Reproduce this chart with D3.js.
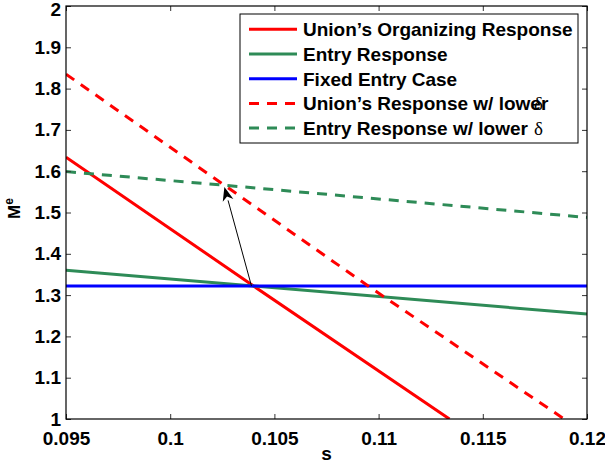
<!DOCTYPE html>
<html>
<head>
<meta charset="utf-8">
<script src="https://cdn.jsdelivr.net/npm/d3@7"></script>
<style>
  body { margin: 0; background: #fff; }
  text { font-family: "Liberation Sans", Arial, sans-serif; font-weight: bold; }
</style>
</head>
<body>
<div class="viz"></div>
<script>
const w = 605;
const h = 466;

// series as [s, M^e] pairs
const unionResponse = [[0.095, 1.634], [0.104, 1.322], [0.1134, 1.0]];
const entryResponse = [[0.095, 1.360], [0.104, 1.322], [0.12, 1.254]];
const fixedEntry = [[0.095, 1.322], [0.12, 1.322]];
const unionLowDelta = [[0.095, 1.835], [0.1026, 1.566], [0.1095, 1.322], [0.1189, 1.0]];
const entryLowDelta = [[0.095, 1.599], [0.1026, 1.566], [0.12, 1.488]];
const arrowPoints = [[0.1039, 1.322], [0.1026, 1.562]];

const legendLabels = ["Union\u2019s Organizing Response", "Entry Response", "Fixed Entry Case",
    "Union\u2019s Response w/ lower", "Entry Response w/ lower"];
const xTicks = [0.095, 0.1, 0.105, 0.11, 0.115, 0.12];
const xTickLabels = ["0.095", "0.1", "0.105", "0.11", "0.115", "0.12"];
const yTicks = [1, 1.1, 1.2, 1.3, 1.4, 1.5, 1.6, 1.7, 1.8, 1.9, 2];
const yTickLabels = ["1", "1.1", "1.2", "1.3", "1.4", "1.5", "1.6", "1.7", "1.8", "1.9", "2"];

const m = { left: 66, right: 587, top: 6, bottom: 419 };

const svg = d3.select(".viz")
    .append("svg")
    .attr("width", w)
    .attr("height", h);

const x = d3.scaleLinear().domain([0.095, 0.12]).range([m.left, m.right]);
const y = d3.scaleLinear().domain([1, 2]).range([m.bottom, m.top]);

svg.append("defs").append("clipPath").attr("id", "clip")
    .append("rect")
    .attr("x", m.left).attr("y", m.top)
    .attr("width", m.right - m.left).attr("height", m.bottom - m.top);

const series = [
    { data: unionResponse, color: "#ff0000", dash: null },
    { data: entryResponse, color: "#2e8b57", dash: null },
    { data: fixedEntry, color: "#0000ff", dash: null },
    { data: unionLowDelta, color: "#ff0000", dash: "10,8" },
    { data: entryLowDelta, color: "#2e8b57", dash: "10,8" }
];

const line = d3.line().x(d => x(d[0])).y(d => y(d[1]));

svg.append("g").attr("clip-path", "url(#clip)")
    .selectAll("path")
    .data(series)
    .enter()
    .append("path")
    .attr("d", d => line(d.data))
    .style("fill", "none")
    .style("stroke", d => d.color)
    .style("stroke-width", 3)
    .style("stroke-dasharray", d => d.dash);

// arrow
const a0 = [x(arrowPoints[0][0]), y(arrowPoints[0][1])];
const a1 = [x(arrowPoints[1][0]), y(arrowPoints[1][1])];
const ang = Math.atan2(a1[1] - a0[1], a1[0] - a0[0]);
const headLen = 14, headW = 5.5;
const base = [a1[0] - headLen * Math.cos(ang), a1[1] - headLen * Math.sin(ang)];
svg.append("line")
    .attr("x1", a0[0]).attr("y1", a0[1])
    .attr("x2", base[0]).attr("y2", base[1])
    .style("stroke", "black")
    .style("stroke-width", 1);
svg.append("path")
    .attr("d", "M" + a1 + "L" + [base[0] + headW * Math.sin(ang), base[1] - headW * Math.cos(ang)]
        + "L" + [a1[0] - 10 * Math.cos(ang), a1[1] - 10 * Math.sin(ang)]
        + "L" + [base[0] - headW * Math.sin(ang), base[1] + headW * Math.cos(ang)] + "Z")
    .style("fill", "black");

// axes, ticks point inward on all four sides
const fmtX = d => xTickLabels[xTicks.indexOf(d)];
const fmtY = d => yTickLabels[yTicks.indexOf(d)];

svg.append("g").attr("transform", `translate(0,${m.bottom})`)
    .call(d3.axisBottom(x).tickValues(xTicks).tickFormat(fmtX).tickSize(-5).tickSizeOuter(0).tickPadding(13));
const gy = svg.append("g").attr("transform", `translate(${m.left},0)`)
    .call(d3.axisLeft(y).tickValues(yTicks).tickFormat(fmtY).tickSize(-5).tickSizeOuter(0).tickPadding(5));
svg.append("g").attr("transform", `translate(0,${m.top})`)
    .call(d3.axisTop(x).tickValues(xTicks).tickFormat("").tickSize(-5).tickSizeOuter(0));
svg.append("g").attr("transform", `translate(${m.right},0)`)
    .call(d3.axisRight(y).tickValues(yTicks).tickFormat("").tickSize(-5).tickSizeOuter(0));

svg.selectAll(".tick text")
    .style("font-family", "'Liberation Sans', Arial, sans-serif")
    .style("font-weight", "bold")
    .style("font-size", "19px")
    .style("fill", "black");
// keep the top label inside the window
gy.selectAll(".tick text").filter(d => d === 2).attr("dy", "0.5em");
svg.selectAll(".domain").remove();
svg.selectAll(".tick line").style("stroke", "#333");

svg.append("rect")
    .attr("x", m.left).attr("y", m.top)
    .attr("width", m.right - m.left).attr("height", m.bottom - m.top)
    .style("fill", "none").style("stroke", "black").style("stroke-width", 1.2);

// axis labels
svg.append("text")
    .attr("x", (m.left + m.right) / 2).attr("y", 460)
    .attr("text-anchor", "middle")
    .style("font-size", "19px")
    .text("s");

const ylab = svg.append("text")
    .attr("transform", `translate(20,${(m.top + m.bottom) / 2 - 4}) rotate(-90)`)
    .attr("text-anchor", "middle")
    .style("font-size", "17px");
ylab.append("tspan").text("M");
ylab.append("tspan").attr("dy", -7).style("font-size", "12px").text("e");

// legend
const leg = svg.append("g");
leg.append("rect")
    .attr("x", 240).attr("y", 14).attr("width", 338).attr("height", 129)
    .style("fill", "white").style("stroke", "black").style("stroke-width", 1);

const rows = leg.selectAll("g.row")
    .data(series)
    .enter()
    .append("g")
    .attr("class", "row")
    .attr("transform", (d, i) => `translate(0,${29.3 + i * 24.7})`);

rows.append("line")
    .attr("x1", 249).attr("x2", 297)
    .style("stroke", d => d.color)
    .style("stroke-width", 3)
    .style("stroke-dasharray", d => d.dash);

const labels = rows.append("text")
    .attr("x", 303).attr("dy", "0.36em")
    .style("font-size", "19px")
    .text((d, i) => legendLabels[i]);

const deltaX = 303 + labels.nodes()[4].getComputedTextLength() + 6;
rows.filter((d, i) => i >= 3)
    .append("text")
    .attr("x", deltaX).attr("dy", "0.36em")
    .style("font-family", "'Liberation Serif', 'Times New Roman', serif")
    .style("font-weight", "normal")
    .style("font-size", "19px")
    .text("\u03b4");
</script>
</body>
</html>
